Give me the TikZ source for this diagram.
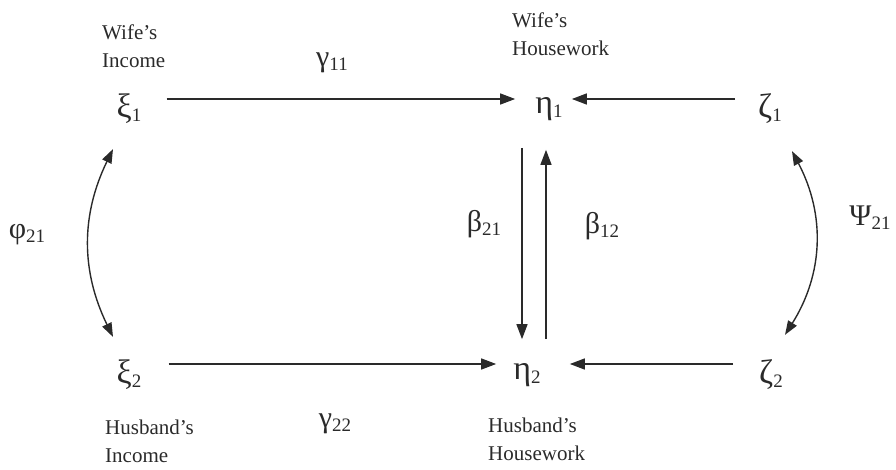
\documentclass[tikz,border=0pt]{standalone}
\usepackage{fontspec}
\setmainfont{Liberation Serif}
\usetikzlibrary{arrows.meta}
\definecolor{ink}{HTML}{2A2A2A}
\newcommand{\subs}[1]{\raisebox{-4pt}{\fontsize{19}{19}\selectfont #1}}

\begin{document}
\begin{tikzpicture}[
    x=1pt, y=-1pt,
    var/.style={inner sep=0pt, text=ink, font=\fontsize{34}{34}\selectfont},
    coef/.style={inner sep=0pt, text=ink, font=\fontsize{30}{30}\selectfont},
    tag/.style={inner sep=0pt, text=ink, align=left, anchor=north west,
        font=\fontsize{21}{28}\selectfont},
    arr/.style={-{Triangle[length=15pt,width=11pt]}, line width=1.4pt, color=ink},
    dbl/.style={{Triangle[length=14pt,width=10pt]}-{Triangle[length=14pt,width=10pt]},
        line width=1.4pt, color=ink},
]
\useasboundingbox (0,0) rectangle (896,470);

% ── Variables ──
\node[var] (xi1) at (129,109) {ξ\subs{1}};
\node[var] (eta1) at (549,109) {η\subs{1}};
\node[var] (zeta1) at (770,109) {ζ\subs{1}};

\node[var] (xi2) at (129,375) {ξ\subs{2}};
\node[var] (eta2) at (527,375) {η\subs{2}};
\node[var] (zeta2) at (771,375) {ζ\subs{2}};

% ── Descriptions ──
\node[tag] (winc) at (102,25) {Wife’s\\Income};
\node[tag] (whw) at (512,13) {Wife’s\\Housework};
\node[tag] (hinc) at (105,420) {Husband’s\\Income};
\node[tag] (hhw) at (488,418) {Husband’s\\Housework};

% ── Horizontal paths ──
\draw[arr, shorten <=25pt, shorten >=20pt] ([yshift=10pt]xi1.east) -- ([yshift=10pt]eta1.west);
\draw[arr, shorten <=23pt, shorten >=9pt] ([yshift=10pt]zeta1.west) -- ([yshift=10pt]eta1.east);
\draw[arr, shorten <=27pt, shorten >=17pt] ([yshift=11pt]xi2.east) -- ([yshift=11pt]eta2.west);
\draw[arr, shorten <=26pt, shorten >=29pt] ([yshift=11pt]zeta2.west) -- ([yshift=11pt]eta2.east);

% ── Reciprocal paths ──
\draw[arr, shorten <=27pt, shorten >=24pt] ([xshift=-27pt]eta1.south) -- ([xshift=-5pt]eta2.north);
\draw[arr, shorten <=24pt, shorten >=29pt] ([xshift=19pt]eta2.north) -- ([xshift=-3pt]eta1.south);

% ── Correlations ──
\draw[dbl] ([xshift=-16pt,yshift=-25pt]xi1.south) to[bend right=26] ([xshift=-16pt,yshift=23pt]xi2.north);
\draw[dbl] ([xshift=22pt,yshift=-27pt]zeta1.south) to[bend left=30] ([xshift=14pt,yshift=25pt]zeta2.north);

% ── Coefficients ──
\node[coef] (g11) at (332,63) {γ\subs{11}};
\node[coef] (g22) at (335,424) {γ\subs{22}};
\node[coef] (b21) at (484,224) {β\subs{21}};
\node[coef] (b12) at (602,226) {β\subs{12}};
\node[coef] (phi) at (27,235) {φ\subs{21}};
\node[coef] (psi) at (870,218) {Ψ\subs{21}};

\end{tikzpicture}
\end{document}
